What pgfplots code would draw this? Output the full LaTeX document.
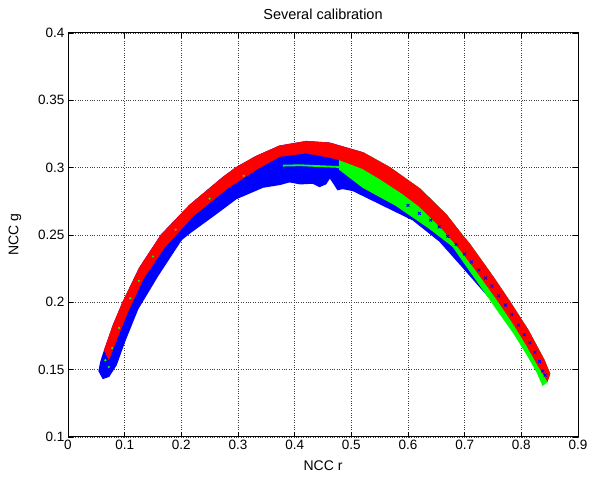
\documentclass[border=0pt]{standalone}
\usepackage{fontspec}
\setmainfont{Liberation Sans}
\usepackage{pgfplots}
\pgfplotsset{compat=1.18}
\definecolor{mred}{RGB}{255,0,0}
\definecolor{mblue}{RGB}{0,0,255}
\definecolor{mgreen}{RGB}{0,255,0}
\begin{document}
\begin{tikzpicture}[x=1pt,y=1pt]
\path[use as bounding box] (0,0) rectangle (596,481);
\begin{axis}[
  at={(68pt,44pt)}, anchor=south west,
  scale only axis, width=510pt, height=404pt,
  xmin=0, xmax=0.9, ymin=0.1, ymax=0.4,
  xtick={0,0.1,0.2,0.3,0.4,0.5,0.6,0.7,0.8,0.9},
  ytick={0.1,0.15,0.2,0.25,0.3,0.35,0.4},
  /pgf/number format/assume math mode=true,
  /pgf/number format/fixed, /pgf/number format/precision=2,
  grid=major,
  major grid style={dotted, black!75, line width=0.7pt},
  tick align=inside, major tick length=5pt,
  tick style={black, line width=0.6pt},
  axis line style={black, line width=1pt},
  tick label style={font=\fontsize{13.5}{15}\selectfont},
  label style={font=\fontsize{14}{16}\selectfont},
  title style={font=\fontsize{14.5}{16}\selectfont, at={(axis description cs:0.5,1.047)}, anchor=center, yshift=-6pt},
  xlabel style={at={(axis description cs:0.5,-0.072)}, anchor=center},
  ylabel style={at={(axis description cs:-0.104,0.5)}, anchor=center},
  title={Several calibration},
  xlabel={NCC r}, ylabel={NCC g},
]
% blue band
\addplot[draw=mblue, fill=mblue, line width=1.2pt] coordinates {
 (0.0647,0.1646) (0.08,0.183) (0.097,0.2) (0.1265,0.2256) (0.1647,0.25)
 (0.2147,0.272) (0.2735,0.2927) (0.297,0.300) (0.332,0.3083) (0.3735,0.316)
 (0.4206,0.3194) (0.4618,0.3182) (0.5206,0.311) (0.5676,0.300) (0.6206,0.2842)
 (0.6676,0.2648) (0.695,0.25) (0.7088,0.243) (0.75,0.2187) (0.78,0.2)
 (0.812,0.179) (0.84,0.157) (0.848,0.148)
 (0.836,0.143) (0.83,0.152) (0.812,0.165) (0.79,0.18) (0.756,0.1975)
 (0.697,0.226) (0.656,0.2454) (0.6088,0.2612) (0.55,0.2733) (0.503,0.283)
 (0.485,0.2845) (0.476,0.2837) (0.468,0.289) (0.462,0.2927) (0.455,0.288)
 (0.444,0.286) (0.432,0.2885) (0.41,0.288) (0.391,0.2895) (0.3735,0.2875)
 (0.344,0.2855) (0.297,0.2770) (0.262,0.2660) (0.2147,0.2515) (0.2,0.2465)
 (0.158,0.2195) (0.123,0.195) (0.1,0.171) (0.085,0.1535) (0.072,0.145)
 (0.0618,0.1435) (0.0547,0.149) (0.058,0.156) (0.0647,0.1646)
} -- cycle;
% green band
\addplot[draw=mgreen, fill=mgreen, line width=1.2pt] coordinates {
 (0.479,0.309) (0.5206,0.311) (0.5676,0.300) (0.6206,0.2842) (0.6676,0.2648)
 (0.695,0.25) (0.7088,0.243) (0.75,0.2187) (0.78,0.2) (0.812,0.179)
 (0.84,0.157) (0.85,0.147) (0.845,0.141) (0.838,0.1385) (0.828,0.148)
 (0.812,0.160) (0.787,0.177) (0.755,0.196) (0.726,0.2135) (0.679,0.2417)
 (0.638,0.255) (0.579,0.272) (0.5206,0.2854) (0.479,0.2988)
} -- cycle;
\addplot[mgreen, line width=1.8pt] coordinates {
 (0.379,0.3015) (0.41,0.3018) (0.44,0.3012) (0.479,0.3005)
};
% red band
\addplot[draw=mred, fill=mred, line width=1.2pt] coordinates {
 (0.0647,0.1646) (0.08,0.183) (0.097,0.2) (0.1265,0.2256) (0.1647,0.25)
 (0.2147,0.272) (0.2735,0.2927) (0.297,0.300) (0.332,0.3083) (0.3735,0.316)
 (0.4206,0.3194) (0.4618,0.3182) (0.5206,0.311) (0.5676,0.300) (0.6206,0.2842)
 (0.6676,0.2648) (0.695,0.25) (0.7088,0.243) (0.75,0.2187) (0.78,0.2)
 (0.812,0.179) (0.84,0.157) (0.85,0.147) (0.846,0.142)
 (0.83,0.153) (0.81,0.168) (0.785,0.185) (0.756,0.203) (0.72,0.224)
 (0.691,0.240) (0.66,0.255) (0.62,0.2715) (0.59,0.281) (0.55,0.292)
 (0.52,0.2995) (0.479,0.306) (0.46,0.308) (0.42,0.311) (0.3735,0.3085)
 (0.335,0.2995) (0.28,0.2845) (0.22,0.264) (0.17,0.241) (0.133,0.218)
 (0.104,0.192) (0.085,0.172) (0.072,0.158)
} -- cycle;
% scattered blue markers over the green band
\addplot[only marks, mark=x, mark size=2pt, mblue, line width=0.9pt] coordinates {
 (0.60,0.272) (0.62,0.266) (0.64,0.261) (0.655,0.256) (0.67,0.249) (0.685,0.243)
 (0.70,0.236) (0.712,0.230) (0.725,0.224) (0.737,0.218) (0.748,0.212) (0.76,0.205)
 (0.772,0.198) (0.783,0.191) (0.795,0.183) (0.805,0.176) (0.815,0.170) (0.824,0.163)
 (0.832,0.156) (0.838,0.149) (0.842,0.146)
};
% green specks along the left edge
\addplot[only marks, mark=*, mark size=0.9pt, mgreen] coordinates {
 (0.066,0.157) (0.072,0.152) (0.078,0.166) (0.09,0.181) (0.11,0.203) (0.125,0.216)
 (0.15,0.234) (0.19,0.254) (0.25,0.277) (0.31,0.294)
};
\end{axis}
\end{tikzpicture}
\end{document}
